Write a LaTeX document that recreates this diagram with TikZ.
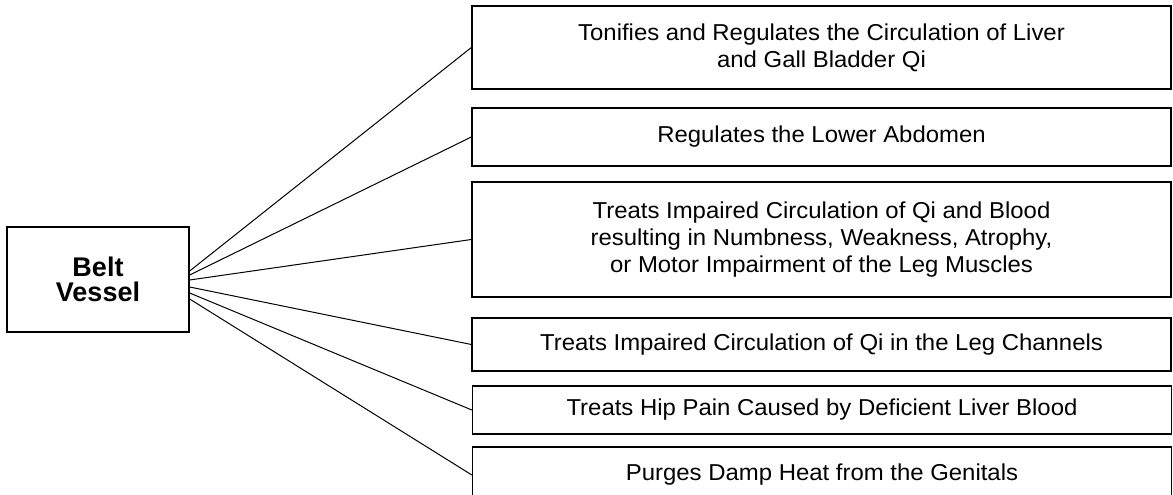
\documentclass[tikz,border=0pt]{standalone}
\usepackage{fontspec}
\setmainfont{Liberation Sans}
\newfontfamily\boxfont[FakeStretch=1.04]{Liberation Sans}
\tikzset{
  vessel/.style={draw, line width=1.3pt, minimum width=182pt, minimum height=105pt,
    align=center, font=\fontsize{27}{25}\selectfont\bfseries, inner sep=0pt},
  effect/.style={draw, line width=1.3pt, minimum width=699pt, align=center,
    font=\boxfont\fontsize{23}{27}\selectfont, inner sep=0pt},
  branch/.style={line width=1pt}
}
\begin{document}
\begin{tikzpicture}[x=1pt,y=-1pt]
  \useasboundingbox (0,0) rectangle (1173,495);
  \clip (0,0) rectangle (1173,495);
  \node[vessel] (belt) at (98,279.5) {Belt\\Vessel};
  \node[effect, minimum height=83pt] (e1) at (821.5,47.5)
    {Tonifies and Regulates the Circulation of Liver\\and Gall Bladder Qi};
  \node[effect, minimum height=58pt] (e2) at (821.5,137) {Regulates the Lower Abdomen};
  \node[effect, minimum height=115pt] (e3) at (821.5,239.5)
    {Treats Impaired Circulation of Qi and Blood\\resulting in Numbness, Weakness, Atrophy,\\or Motor Impairment of the Leg Muscles};
  \node[effect, minimum height=53pt] (e4) at (821.5,344.5)
    {Treats Impaired Circulation of Qi in the Leg Channels};
  \node[effect, minimum height=48pt] (e5) at (822,410)
    {Treats Hip Pain Caused by Deficient Liver Blood};
  \node[effect, minimum height=56pt] (e6) at (822,475)
    {Purges Damp Heat from the Genitals};
  \draw[branch] ([yshift=8.5pt]belt.east) -- (e1.west);
  \draw[branch] ([yshift=4.5pt]belt.east) -- (e2.west);
  \draw[branch] ([yshift=-0.5pt]belt.east) -- (e3.west);
  \draw[branch] ([yshift=-7.5pt]belt.east) -- (e4.west);
  \draw[branch] ([yshift=-13.5pt]belt.east) -- (e5.west);
  \draw[branch] ([yshift=-19.5pt]belt.east) -- (e6.west);
\end{tikzpicture}
\end{document}
